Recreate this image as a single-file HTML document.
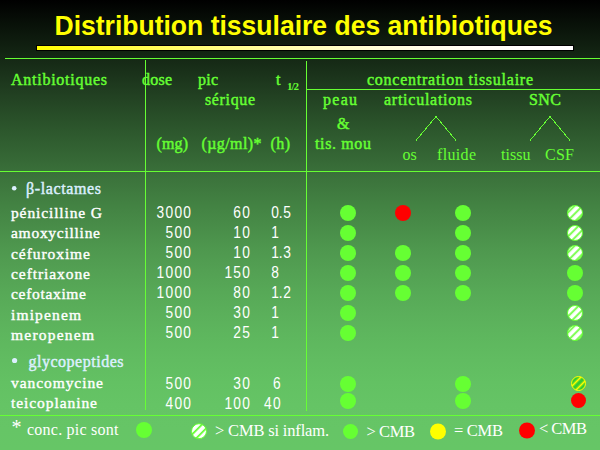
<!DOCTYPE html>
<html><head><meta charset="utf-8"><style>html,body{margin:0;padding:0;background:#000;overflow:hidden}svg{display:block}</style></head>
<body><svg width="600" height="450" viewBox="0 0 600 450">
<defs>
<linearGradient id="bg" x1="0" y1="0" x2="0" y2="1">
<stop offset="0.00" stop-color="rgb(0,0,0)"/><stop offset="0.05" stop-color="rgb(8,16,8)"/><stop offset="0.10" stop-color="rgb(16,31,16)"/><stop offset="0.15" stop-color="rgb(24,46,24)"/><stop offset="0.20" stop-color="rgb(32,61,32)"/><stop offset="0.25" stop-color="rgb(39,76,39)"/><stop offset="0.30" stop-color="rgb(46,90,46)"/><stop offset="0.35" stop-color="rgb(53,103,53)"/><stop offset="0.40" stop-color="rgb(60,116,60)"/><stop offset="0.45" stop-color="rgb(66,129,66)"/><stop offset="0.50" stop-color="rgb(72,140,72)"/><stop offset="0.55" stop-color="rgb(78,151,78)"/><stop offset="0.60" stop-color="rgb(83,160,83)"/><stop offset="0.65" stop-color="rgb(87,169,87)"/><stop offset="0.70" stop-color="rgb(91,176,91)"/><stop offset="0.75" stop-color="rgb(94,183,94)"/><stop offset="0.80" stop-color="rgb(97,188,97)"/><stop offset="0.85" stop-color="rgb(99,193,99)"/><stop offset="0.90" stop-color="rgb(101,196,101)"/><stop offset="0.95" stop-color="rgb(102,197,102)"/><stop offset="1.00" stop-color="rgb(102,198,102)"/>
</linearGradient>
<linearGradient id="yl" x1="0" y1="0" x2="1" y2="0">
<stop offset="0.00" stop-color="rgb(255,255,0)"/><stop offset="0.05" stop-color="rgb(255,255,20)"/><stop offset="0.10" stop-color="rgb(255,255,40)"/><stop offset="0.15" stop-color="rgb(255,255,60)"/><stop offset="0.20" stop-color="rgb(255,255,79)"/><stop offset="0.25" stop-color="rgb(255,255,98)"/><stop offset="0.30" stop-color="rgb(255,255,116)"/><stop offset="0.35" stop-color="rgb(255,255,133)"/><stop offset="0.40" stop-color="rgb(255,255,150)"/><stop offset="0.45" stop-color="rgb(255,255,166)"/><stop offset="0.50" stop-color="rgb(255,255,180)"/><stop offset="0.55" stop-color="rgb(255,255,194)"/><stop offset="0.60" stop-color="rgb(255,255,206)"/><stop offset="0.65" stop-color="rgb(255,255,217)"/><stop offset="0.70" stop-color="rgb(255,255,227)"/><stop offset="0.75" stop-color="rgb(255,255,236)"/><stop offset="0.80" stop-color="rgb(255,255,243)"/><stop offset="0.85" stop-color="rgb(255,255,248)"/><stop offset="0.90" stop-color="rgb(255,255,252)"/><stop offset="0.95" stop-color="rgb(255,255,254)"/><stop offset="1.00" stop-color="rgb(255,255,255)"/>
</linearGradient>
<pattern id="sg" patternUnits="userSpaceOnUse" width="5.657" height="10" patternTransform="rotate(45)">
<rect width="5.657" height="10" fill="#ffffff"/><rect x="2.298" width="1.768" height="10" fill="#66ff33"/>
</pattern>
<pattern id="sg2" patternUnits="userSpaceOnUse" width="5.657" height="10" patternTransform="rotate(45)">
<rect width="5.657" height="10" fill="#ffffff"/><rect x="0.884" width="1.768" height="10" fill="#66ff33"/>
</pattern>
<pattern id="sy" patternUnits="userSpaceOnUse" width="5.657" height="10" patternTransform="rotate(45)">
<rect width="5.657" height="10" fill="#33cc33"/><rect x="3.359" width="1.768" height="10" fill="#ffff00"/>
</pattern>
</defs>
<rect width="600" height="450" fill="url(#bg)"/>
<rect x="36" y="45" width="538" height="6" fill="#000"/>
<rect x="37" y="46" width="536" height="4" fill="url(#yl)"/>
<g fill="#66ff33">
<rect x="5" y="58" width="595" height="1"/>
<rect x="306" y="89" width="294" height="1"/>
<rect x="0" y="171" width="600" height="1"/>
<rect x="0" y="415" width="600" height="1"/>
<rect x="145" y="60" width="1" height="350"/>
<rect x="306" y="61" width="1" height="350"/>
</g>
<g fill="none" stroke="#66ff33" stroke-width="1" shape-rendering="crispEdges">
<polyline points="416,140.5 436,116.5 456,140.5"/>
<polyline points="530,140.5 550,116.5 570,140.5"/>
</g>
<circle cx="348" cy="213" r="8" fill="#66ff33"/>
<circle cx="403" cy="213" r="8" fill="#ff0000"/>
<circle cx="463" cy="213" r="8" fill="#66ff33"/>
<circle cx="575" cy="213" r="7.5" fill="url(#sg)" stroke="#66ff33" stroke-width="1"/>
<circle cx="348" cy="233" r="8" fill="#66ff33"/>
<circle cx="463" cy="233" r="8" fill="#66ff33"/>
<circle cx="575" cy="233" r="7.5" fill="url(#sg)" stroke="#66ff33" stroke-width="1"/>
<circle cx="348" cy="253" r="8" fill="#66ff33"/>
<circle cx="403" cy="253" r="8" fill="#66ff33"/>
<circle cx="463" cy="253" r="8" fill="#66ff33"/>
<circle cx="575" cy="253" r="7.5" fill="url(#sg)" stroke="#66ff33" stroke-width="1"/>
<circle cx="348" cy="273" r="8" fill="#66ff33"/>
<circle cx="403" cy="273" r="8" fill="#66ff33"/>
<circle cx="463" cy="273" r="8" fill="#66ff33"/>
<circle cx="575" cy="273" r="8" fill="#66ff33"/>
<circle cx="348" cy="293" r="8" fill="#66ff33"/>
<circle cx="403" cy="293" r="8" fill="#66ff33"/>
<circle cx="463" cy="293" r="8" fill="#66ff33"/>
<circle cx="575" cy="293" r="8" fill="#66ff33"/>
<circle cx="348" cy="313" r="8" fill="#66ff33"/>
<circle cx="575" cy="313" r="7.5" fill="url(#sg)" stroke="#66ff33" stroke-width="1"/>
<circle cx="348" cy="333" r="8" fill="#66ff33"/>
<circle cx="575" cy="333" r="7.5" fill="url(#sg)" stroke="#66ff33" stroke-width="1"/>
<circle cx="348" cy="384" r="8" fill="#66ff33"/>
<circle cx="463" cy="384" r="8" fill="#66ff33"/>
<circle cx="578.5" cy="383.5" r="7.0" fill="url(#sy)" stroke="#ffff00" stroke-width="1"/>
<circle cx="348" cy="401" r="8" fill="#66ff33"/>
<circle cx="463" cy="401" r="8" fill="#66ff33"/>
<circle cx="578.5" cy="400.5" r="7.5" fill="#ff0000"/>
<circle cx="144" cy="430" r="8" fill="#66ff33"/>
<circle cx="199" cy="431.2" r="7.5" fill="url(#sg2)" stroke="#66ff33" stroke-width="1"/>
<circle cx="350.5" cy="431.5" r="7.5" fill="#66ff33"/>
<circle cx="438" cy="431.5" r="8" fill="#ffff00"/>
<circle cx="527" cy="430.5" r="8" fill="#ff0000"/>
<circle cx="14.2" cy="188.3" r="2.3" fill="#dcf0ff"/>
<circle cx="14.6" cy="360.5" r="2.6" fill="#dcf0ff"/>
<text x="54.5" y="35" font-family="Liberation Sans" font-size="28" font-weight="bold" fill="#ffff00" textLength="498" lengthAdjust="spacingAndGlyphs">Distribution tissulaire des antibiotiques</text>
<text x="11" y="85" font-family="Liberation Serif" font-size="16" font-weight="normal" fill="#66ff33" stroke="#66ff33" stroke-width="0.45" textLength="96" lengthAdjust="spacing">Antibiotiques</text>
<text x="142" y="85" font-family="Liberation Serif" font-size="16" font-weight="normal" fill="#66ff33" stroke="#66ff33" stroke-width="0.45" textLength="30" lengthAdjust="spacing">dose</text>
<text x="198" y="85" font-family="Liberation Serif" font-size="16" font-weight="normal" fill="#66ff33" stroke="#66ff33" stroke-width="0.45" textLength="20" lengthAdjust="spacing">pic</text>
<text x="276" y="85" font-family="Liberation Serif" font-size="16" font-weight="normal" fill="#66ff33" stroke="#66ff33" stroke-width="0.45">t</text>
<text x="287" y="90" font-family="Liberation Serif" font-size="11" font-weight="bold" fill="#66ff33" textLength="12" lengthAdjust="spacing">1/2</text>
<text x="205" y="105" font-family="Liberation Serif" font-size="16" font-weight="normal" fill="#66ff33" stroke="#66ff33" stroke-width="0.45" textLength="50" lengthAdjust="spacing">sérique</text>
<text x="367" y="85" font-family="Liberation Serif" font-size="16" font-weight="normal" fill="#66ff33" stroke="#66ff33" stroke-width="0.45" textLength="166" lengthAdjust="spacing">concentration tissulaire</text>
<text x="323" y="105" font-family="Liberation Serif" font-size="16" font-weight="normal" fill="#66ff33" stroke="#66ff33" stroke-width="0.45" textLength="34" lengthAdjust="spacing">peau</text>
<text x="384" y="105" font-family="Liberation Serif" font-size="16" font-weight="normal" fill="#66ff33" stroke="#66ff33" stroke-width="0.45" textLength="88" lengthAdjust="spacing">articulations</text>
<text x="529" y="105" font-family="Liberation Serif" font-size="16" font-weight="normal" fill="#66ff33" stroke="#66ff33" stroke-width="0.45" textLength="32" lengthAdjust="spacing">SNC</text>
<text x="337" y="129" font-family="Liberation Serif" font-size="16" font-weight="normal" fill="#66ff33" stroke="#66ff33" stroke-width="0.45">&amp;</text>
<text x="315" y="149" font-family="Liberation Serif" font-size="16" font-weight="normal" fill="#66ff33" stroke="#66ff33" stroke-width="0.45" textLength="56" lengthAdjust="spacing">tis. mou</text>
<text x="156.5" y="149" font-family="Liberation Serif" font-size="16" font-weight="normal" fill="#66ff33" stroke="#66ff33" stroke-width="0.45" textLength="31.5" lengthAdjust="spacing">(mg)</text>
<text x="201.5" y="149" font-family="Liberation Serif" font-size="16" font-weight="normal" fill="#66ff33" stroke="#66ff33" stroke-width="0.45" textLength="60" lengthAdjust="spacing">(µg/ml)*</text>
<text x="270.5" y="149" font-family="Liberation Serif" font-size="16" font-weight="normal" fill="#66ff33" stroke="#66ff33" stroke-width="0.45" textLength="19.5" lengthAdjust="spacing">(h)</text>
<text x="402.5" y="160" font-family="Liberation Serif" font-size="16" font-weight="normal" fill="#66ff33">os</text>
<text x="437" y="160" font-family="Liberation Serif" font-size="16" font-weight="normal" fill="#66ff33" textLength="39" lengthAdjust="spacing">fluide</text>
<text x="501" y="160" font-family="Liberation Serif" font-size="16" font-weight="normal" fill="#66ff33" textLength="29.5" lengthAdjust="spacing">tissu</text>
<text x="545" y="160" font-family="Liberation Serif" font-size="16" font-weight="normal" fill="#66ff33" textLength="29" lengthAdjust="spacing">CSF</text>
<text x="26" y="194" font-family="Liberation Serif" font-size="16" font-weight="normal" fill="#dcf0ff" stroke="#dcf0ff" stroke-width="0.45" textLength="75" lengthAdjust="spacing">β-lactames</text>
<text x="28.5" y="367" font-family="Liberation Serif" font-size="16" font-weight="normal" fill="#dcf0ff" stroke="#dcf0ff" stroke-width="0.45" textLength="95" lengthAdjust="spacing">glycopeptides</text>
<text x="11" y="218.0" font-family="Liberation Serif" font-size="15.5" font-weight="normal" fill="#ffffff" stroke="#ffffff" stroke-width="0.4" textLength="91" lengthAdjust="spacing">pénicilline G</text>
<text x="11" y="238.3" font-family="Liberation Serif" font-size="15.5" font-weight="normal" fill="#ffffff" stroke="#ffffff" stroke-width="0.4" textLength="89" lengthAdjust="spacing">amoxycilline</text>
<text x="11" y="258.7" font-family="Liberation Serif" font-size="15.5" font-weight="normal" fill="#ffffff" stroke="#ffffff" stroke-width="0.4" textLength="79" lengthAdjust="spacing">céfuroxime</text>
<text x="11" y="279.0" font-family="Liberation Serif" font-size="15.5" font-weight="normal" fill="#ffffff" stroke="#ffffff" stroke-width="0.4" textLength="79" lengthAdjust="spacing">ceftriaxone</text>
<text x="11" y="299.3" font-family="Liberation Serif" font-size="15.5" font-weight="normal" fill="#ffffff" stroke="#ffffff" stroke-width="0.4" textLength="75" lengthAdjust="spacing">cefotaxime</text>
<text x="11" y="319.6" font-family="Liberation Serif" font-size="15.5" font-weight="normal" fill="#ffffff" stroke="#ffffff" stroke-width="0.4" textLength="70" lengthAdjust="spacing">imipenem</text>
<text x="11" y="340.0" font-family="Liberation Serif" font-size="15.5" font-weight="normal" fill="#ffffff" stroke="#ffffff" stroke-width="0.4" textLength="83" lengthAdjust="spacing">meropenem</text>
<text transform="scale(0.86,1)" x="186.57 196.92 207.27 217.62" y="218" font-family="Liberation Sans" font-size="16" fill="#ffffff" text-anchor="middle">3000</text>
<text transform="scale(0.86,1)" x="275.76 286.10" y="218" font-family="Liberation Sans" font-size="16" fill="#ffffff" text-anchor="middle">60</text>
<text transform="scale(0.86,1)" x="319.77 326.45 333.72" y="218" font-family="Liberation Sans" font-size="16" fill="#ffffff" text-anchor="middle">0.5</text>
<text transform="scale(0.86,1)" x="196.92 207.27 217.62" y="238" font-family="Liberation Sans" font-size="16" fill="#ffffff" text-anchor="middle">500</text>
<text transform="scale(0.86,1)" x="275.76 286.10" y="238" font-family="Liberation Sans" font-size="16" fill="#ffffff" text-anchor="middle">10</text>
<text transform="scale(0.86,1)" x="319.77" y="238" font-family="Liberation Sans" font-size="16" fill="#ffffff" text-anchor="middle">1</text>
<text transform="scale(0.86,1)" x="196.92 207.27 217.62" y="258" font-family="Liberation Sans" font-size="16" fill="#ffffff" text-anchor="middle">500</text>
<text transform="scale(0.86,1)" x="275.76 286.10" y="258" font-family="Liberation Sans" font-size="16" fill="#ffffff" text-anchor="middle">10</text>
<text transform="scale(0.86,1)" x="319.77 326.45 333.72" y="258" font-family="Liberation Sans" font-size="16" fill="#ffffff" text-anchor="middle">1.3</text>
<text transform="scale(0.86,1)" x="186.57 196.92 207.27 217.62" y="278" font-family="Liberation Sans" font-size="16" fill="#ffffff" text-anchor="middle">1000</text>
<text transform="scale(0.86,1)" x="265.41 275.76 286.10" y="278" font-family="Liberation Sans" font-size="16" fill="#ffffff" text-anchor="middle">150</text>
<text transform="scale(0.86,1)" x="319.77" y="278" font-family="Liberation Sans" font-size="16" fill="#ffffff" text-anchor="middle">8</text>
<text transform="scale(0.86,1)" x="186.57 196.92 207.27 217.62" y="298" font-family="Liberation Sans" font-size="16" fill="#ffffff" text-anchor="middle">1000</text>
<text transform="scale(0.86,1)" x="275.76 286.10" y="298" font-family="Liberation Sans" font-size="16" fill="#ffffff" text-anchor="middle">80</text>
<text transform="scale(0.86,1)" x="319.77 326.45 333.72" y="298" font-family="Liberation Sans" font-size="16" fill="#ffffff" text-anchor="middle">1.2</text>
<text transform="scale(0.86,1)" x="196.92 207.27 217.62" y="318" font-family="Liberation Sans" font-size="16" fill="#ffffff" text-anchor="middle">500</text>
<text transform="scale(0.86,1)" x="275.76 286.10" y="318" font-family="Liberation Sans" font-size="16" fill="#ffffff" text-anchor="middle">30</text>
<text transform="scale(0.86,1)" x="319.77" y="318" font-family="Liberation Sans" font-size="16" fill="#ffffff" text-anchor="middle">1</text>
<text transform="scale(0.86,1)" x="196.92 207.27 217.62" y="338" font-family="Liberation Sans" font-size="16" fill="#ffffff" text-anchor="middle">500</text>
<text transform="scale(0.86,1)" x="275.76 286.10" y="338" font-family="Liberation Sans" font-size="16" fill="#ffffff" text-anchor="middle">25</text>
<text transform="scale(0.86,1)" x="319.77" y="338" font-family="Liberation Sans" font-size="16" fill="#ffffff" text-anchor="middle">1</text>
<text x="11" y="388" font-family="Liberation Serif" font-size="15.5" font-weight="normal" fill="#ffffff" stroke="#ffffff" stroke-width="0.4" textLength="92" lengthAdjust="spacing">vancomycine</text>
<text x="11" y="408" font-family="Liberation Serif" font-size="15.5" font-weight="normal" fill="#ffffff" stroke="#ffffff" stroke-width="0.4" textLength="86" lengthAdjust="spacing">teicoplanine</text>
<text transform="scale(0.86,1)" x="196.92 207.27 217.62" y="389" font-family="Liberation Sans" font-size="16" fill="#ffffff" text-anchor="middle">500</text>
<text transform="scale(0.86,1)" x="275.76 286.10" y="389" font-family="Liberation Sans" font-size="16" fill="#ffffff" text-anchor="middle">30</text>
<text transform="scale(0.86,1)" x="321.80" y="389" font-family="Liberation Sans" font-size="16" fill="#ffffff" text-anchor="middle">6</text>
<text transform="scale(0.86,1)" x="196.92 207.27 217.62" y="409" font-family="Liberation Sans" font-size="16" fill="#ffffff" text-anchor="middle">400</text>
<text transform="scale(0.86,1)" x="265.41 275.76 286.10" y="409" font-family="Liberation Sans" font-size="16" fill="#ffffff" text-anchor="middle">100</text>
<text transform="scale(0.86,1)" x="311.45 321.80" y="409" font-family="Liberation Sans" font-size="16" fill="#ffffff" text-anchor="middle">40</text>
<text x="11.5" y="434" font-family="Liberation Serif" font-size="20" font-weight="normal" fill="#ffffff">*</text>
<text x="27" y="435" font-family="Liberation Serif" font-size="16" font-weight="normal" fill="#ffffff" textLength="91.5" lengthAdjust="spacing">conc. pic sont</text>
<text x="215" y="436" font-family="Liberation Serif" font-size="16.5" font-weight="normal" fill="#ffffff" textLength="114" lengthAdjust="spacing">&gt; CMB si inflam.</text>
<text x="366.5" y="436.5" font-family="Liberation Serif" font-size="16.5" font-weight="normal" fill="#ffffff" textLength="48.5" lengthAdjust="spacing">&gt; CMB</text>
<text x="454" y="436" font-family="Liberation Serif" font-size="16.5" font-weight="normal" fill="#ffffff" textLength="49" lengthAdjust="spacing">= CMB</text>
<text x="539" y="434" font-family="Liberation Serif" font-size="16.5" font-weight="normal" fill="#ffffff" textLength="48" lengthAdjust="spacing">&lt; CMB</text>
</svg></body></html>
